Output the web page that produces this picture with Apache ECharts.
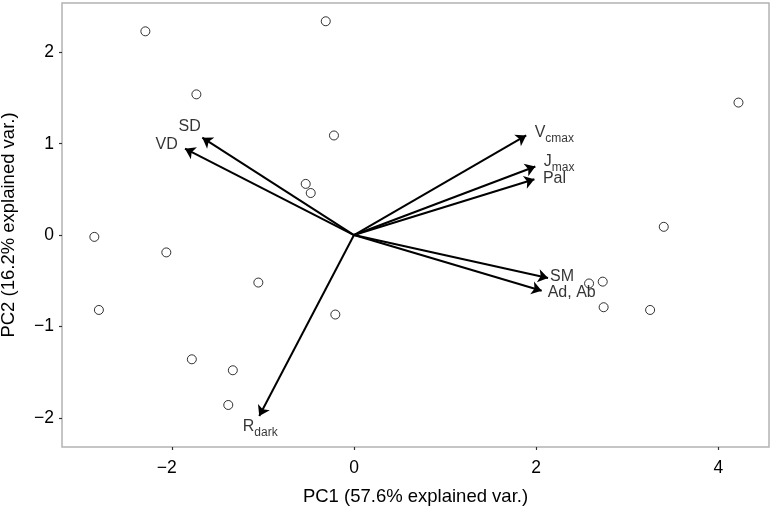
<!DOCTYPE html>
<html>
<head>
<meta charset="utf-8">
<script src="https://cdn.jsdelivr.net/npm/echarts@6/dist/echarts.min.js"></script>
<style>
html,body{margin:0;padding:0;background:#fff;}
#chart{width:773px;height:510px;}
</style>
</head>
<body>
<div id="chart"></div>
<script>
// ---- data ----
const xTicks = [-2, 0, 2, 4];
const yTicks = [-2, -1, 0, 1, 2];
const xTitle = 'PC1 (57.6% explained var.)';
const yTitle = 'PC2 (16.2% explained var.)';

// sample scores
const pc1 = [-2.29, -0.31, -1.73, -0.22, -0.53, -0.475, -2.85, -2.06, -2.80, -1.05,
             -0.205, -1.78, -1.33, -1.38, 4.22, 3.40, 2.58, 2.73, 2.74, 3.25];
const pc2 = [2.23, 2.34, 1.54, 1.09, 0.56, 0.46, -0.02, -0.19, -0.82, -0.52,
             -0.87, -1.36, -1.48, -1.86, 1.45, 0.09, -0.53, -0.51, -0.79, -0.82];

// variable loadings (arrows)
const varMain = ['V', 'J', 'Pal', 'SM', 'Ad, Ab', 'SD', 'VD', 'R'];
const varSub  = ['cmax', 'max', '', '', '', '', '', 'dark'];
const loadX = [1.89, 1.99, 1.98, 2.13, 2.06, -1.665, -1.855, -1.04];
const loadY = [1.09, 0.75, 0.61, -0.47, -0.61, 1.066, 0.945, -1.98];

// ---- label placement styles (pixels, relative to arrow tip) ----
const labelStyle = [
  {align: 'left',  dx: 9,    dy: -2.5},
  {align: 'left',  dx: 9,    dy: -4},
  {align: 'left',  dx: 9,    dy: 0},
  {align: 'left',  dx: 2.5,  dy: -0.5},
  {align: 'left',  dx: 6.5,  dy: 2},
  {align: 'right', dx: -1,   dy: -11},
  {align: 'right', dx: -6.7, dy: -3.5},
  {align: 'left',  dx: -16,  dy: 11}
];

const fontFam = '"Liberation Sans", Arial, Helvetica, sans-serif';
const fmt = v => (v < 0 ? '\u2212' + Math.abs(v) : String(v));
// x labels: digit centred on tick, minus hangs to the left
const fmtX = v => (v < 0 ? '{t|\u2212' + Math.abs(v) + '}{p| }' : '{t|' + v + '}');

const scatterData = pc1.map((x, i) => [x, pc2[i]]);
const arrowData = loadX.map((x, i) => ({coords: [[0, 0], [x, loadY[i]]]}));
const tipData = loadX.map((x, i) => {
  const s = labelStyle[i];
  const hasSub = varSub[i] !== '';
  return {
    value: [x, loadY[i]],
    label: {
      align: s.align,
      offset: [s.dx, s.dy + (hasSub ? 2 : 0)],
      formatter: hasSub ? '{m|' + varMain[i] + '}{s|' + varSub[i] + '}' : '{m|' + varMain[i] + '}'
    }
  };
});

const chart = echarts.init(document.getElementById('chart'), null, {renderer: 'canvas'});
chart.setOption({
  animation: false,
  backgroundColor: '#ffffff',
  grid: {left: 62, right: 4, top: 3, bottom: 63, containLabel: false, outerBoundsMode: 'none',
         show: true, borderColor: '#b3b3b3', borderWidth: 1.5, backgroundColor: 'transparent'},
  xAxis: {
    type: 'value', min: -3.205, max: 4.555,
    name: xTitle, nameLocation: 'middle', nameGap: 40,
    nameTextStyle: {fontFamily: fontFam, fontSize: 18.5, color: '#000'},
    axisLine: {show: false, onZero: false},
    splitLine: {show: false},
    axisTick: {show: true, inside: false, length: 3, customValues: xTicks, lineStyle: {color: '#333', width: 1.2}},
    axisLabel: {customValues: xTicks, formatter: fmtX, margin: 12, color: '#000',
      rich: {
        t: {fontFamily: fontFam, fontSize: 17.5, color: '#000'},
        p: {fontFamily: fontFam, fontSize: 17.5, width: 10}
      }}
  },
  yAxis: {
    type: 'value', min: -2.32, max: 2.54,
    name: yTitle, nameLocation: 'middle', nameGap: 44, nameRotate: 90,
    nameTextStyle: {fontFamily: fontFam, fontSize: 18.5, color: '#000'},
    axisLine: {show: false, onZero: false},
    splitLine: {show: false},
    axisTick: {show: true, inside: false, length: 3, customValues: yTicks, lineStyle: {color: '#333', width: 1.2}},
    axisLabel: {customValues: yTicks, formatter: fmt, margin: 8, fontFamily: fontFam, fontSize: 17.5, color: '#000'}
  },
  series: [
    {
      type: 'scatter',
      data: scatterData,
      symbol: 'circle',
      symbolSize: 9,
      itemStyle: {color: 'rgba(255,255,255,0)', borderColor: '#000', borderWidth: 1},
      z: 3
    },
    {
      type: 'lines',
      coordinateSystem: 'cartesian2d',
      data: arrowData,
      symbol: ['none', 'arrow'],
      symbolSize: [9, 10],
      lineStyle: {color: '#000', width: 2, opacity: 1, curveness: 0},
      itemStyle: {color: '#000'},
      z: 4
    },
    {
      type: 'scatter',
      data: tipData,
      symbolSize: 1,
      itemStyle: {color: 'rgba(0,0,0,0)'},
      label: {
        show: true,
        position: [0, 0],
        verticalAlign: 'middle',
        color: '#000',
        rich: {
          m: {fontFamily: fontFam, fontSize: 16, color: '#000', lineHeight: 16, verticalAlign: 'top'},
          s: {fontFamily: fontFam, fontSize: 12, color: '#000', lineHeight: 20, verticalAlign: 'bottom'}
        }
      },
      z: 5
    }
  ]
});
</script>
</body>
</html>
